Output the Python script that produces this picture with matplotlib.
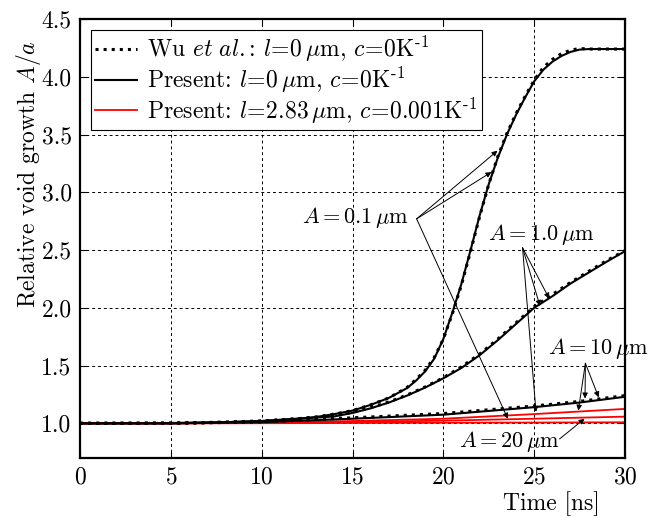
import matplotlib
matplotlib.use('Agg')
import matplotlib.pyplot as plt

plt.rcParams['font.family'] = 'cmr10'
plt.rcParams['mathtext.fontset'] = 'cm'
plt.rcParams['axes.formatter.use_mathtext'] = True
plt.rcParams['axes.unicode_minus'] = False

# A = 0.1 um, l = 0 (steep curve)
t_01 = [0, 5, 8, 10, 12, 13, 14, 15, 16, 17, 18, 18.5, 19, 19.5, 20, 20.5, 21, 21.5,
        22, 22.5, 23, 23.5, 24, 24.5, 25, 25.5, 26, 26.5, 27, 27.5, 28, 30]
present_01 = [1.0, 1.003, 1.01, 1.02, 1.04, 1.055, 1.08, 1.11, 1.16, 1.22, 1.305, 1.37, 1.45,
              1.56, 1.73, 1.96, 2.21, 2.5, 2.8, 3.07, 3.3, 3.5, 3.67, 3.82, 3.96, 4.06,
              4.13, 4.18, 4.215, 4.235, 4.24, 4.24]
wu_01 = [1.0, 1.003, 1.01, 1.02, 1.04, 1.055, 1.08, 1.11, 1.16, 1.22, 1.31, 1.38, 1.46,
         1.57, 1.73, 1.95, 2.2, 2.49, 2.79, 3.07, 3.31, 3.51, 3.68, 3.83, 3.97, 4.08,
         4.15, 4.2, 4.23, 4.245, 4.24, 4.24]

# A = 1.0 um, l = 0
t_1 = [0, 5, 8, 10, 12, 14, 15, 16, 17, 18, 19, 20, 21, 22, 23, 24, 25, 26, 27, 28, 29, 30]
present_1 = [1.0, 1.0, 1.01, 1.02, 1.04, 1.06, 1.09, 1.13, 1.18, 1.24, 1.31, 1.39, 1.48,
             1.59, 1.72, 1.86, 2.0, 2.10, 2.21, 2.305, 2.40, 2.49]
wu_1 = [1.0, 1.0, 1.01, 1.02, 1.04, 1.065, 1.095, 1.135, 1.185, 1.245, 1.315, 1.395, 1.49,
        1.60, 1.73, 1.87, 2.01, 2.115, 2.22, 2.315, 2.41, 2.495]

# A = 10 um, l = 0
t_10 = [0, 5, 10, 15, 20, 25, 27.5, 30]
present_10 = [1.0, 1.0, 1.01, 1.04, 1.075, 1.14, 1.18, 1.23]
wu_10 = [1.0, 1.0, 1.012, 1.048, 1.085, 1.15, 1.19, 1.24]

# l = 2.83 um, c = 0.001 K^-1 (red)
t_red = [0, 5, 10, 15, 20, 25, 30]
red_top = [1.0, 1.0, 1.005, 1.02, 1.04, 1.08, 1.125]
red_mid = [1.0, 1.0, 1.004, 1.012, 1.023, 1.04, 1.058]
red_low = [1.0, 1.0, 1.001, 1.003, 1.005, 1.007, 1.009]

x_ticks = [0, 5, 10, 15, 20, 25, 30]
y_ticks = [1.0, 1.5, 2.0, 2.5, 3.0, 3.5, 4.0, 4.5]

fig = plt.figure(figsize=(6.51, 5.18), dpi=100)
ax = fig.add_axes([80/651, 60/518, 545/651, 439/518])

ax.plot(t_01, wu_01, color='k', ls=':', lw=2.2, label=r'Wu $et\ al.$: $l\!=\!0\,\mu$m, $c\!=\!0\mathrm{K}^{\text{-}1}$')
ax.plot(t_01, present_01, color='k', lw=1.5, label=r'Present: $l\!=\!0\,\mu$m, $c\!=\!0\mathrm{K}^{\text{-}1}$')
ax.plot(t_red, red_top, color='#ff0000', lw=1.3, label=r'Present: $l\!=\!2.83\,\mu$m, $c\!=\!0.001\mathrm{K}^{\text{-}1}$')
ax.plot(t_red, red_mid, color='#ff0000', lw=1.3)
ax.plot(t_red, red_low, color='#ff0000', lw=1.3)
ax.plot(t_1, wu_1, color='k', ls=':', lw=2.2)
ax.plot(t_1, present_1, color='k', lw=1.5)
ax.plot(t_10, wu_10, color='k', ls=':', lw=2.2)
ax.plot(t_10, present_10, color='k', lw=1.5)

# annotations: origin -> arrow tips
arr = dict(arrowstyle='-|>', color='k', lw=0.7, shrinkA=0, shrinkB=0, mutation_scale=8)
for tip in [(22.98, 3.36), (22.65, 3.175), (23.55, 1.04)]:
    ax.annotate('', xy=tip, xytext=(18.53, 2.77), arrowprops=arr)
for tip in [(25.83, 2.08), (25.32, 2.016), (25.1, 1.10)]:
    ax.annotate('', xy=tip, xytext=(24.36, 2.52), arrowprops=arr)
for tip in [(27.8, 1.215), (28.55, 1.225), (27.43, 1.11)]:
    ax.annotate('', xy=tip, xytext=(27.82, 1.52), arrowprops=arr)
ax.annotate('', xy=(27.77, 1.04), xytext=(26.4, 0.865), arrowprops=arr)

ax.text(18.1, 2.78, r'$A=0.1\,\mu$m', fontsize=16, ha='right', va='center')
ax.text(22.45, 2.635, r'$A=1.0\,\mu$m', fontsize=16, ha='left', va='center')
ax.text(25.75, 1.645, r'$A=10\,\mu$m', fontsize=16, ha='left', va='center')
ax.text(20.85, 0.843, r'$A=20\,\mu$m', fontsize=16, ha='left', va='center')

ax.set_xlim(0, 30)
ax.set_ylim(0.7, 4.5)
ax.set_xticks(x_ticks)
ax.set_yticks(y_ticks)
ax.set_yticklabels(['%.1f' % v for v in y_ticks])
ax.tick_params(direction='in', top=True, right=True, length=5, labelsize=17, pad=6)
ax.grid(True, color='k', ls=(0, (3, 3)), lw=0.7)
for s in ax.spines.values():
    s.set_linewidth(1.6)

ax.set_xlabel('Time [ns]', fontsize=17)
ax.xaxis.set_label_coords(0.954, -0.075)
ax.xaxis.label.set_ha('right')
ax.set_ylabel(r'Relative void growth $A/a$', fontsize=17)
ax.yaxis.set_label_coords(-0.068, 0.646)

leg = ax.legend(loc='upper left', fontsize=17, frameon=True, fancybox=False,
                framealpha=1, edgecolor='k', handlelength=1.75, borderpad=0.2,
                labelspacing=0.02, handletextpad=0.45, borderaxespad=0.45)
leg.get_frame().set_linewidth(0.8)

fig.savefig('out.png', dpi=100)
